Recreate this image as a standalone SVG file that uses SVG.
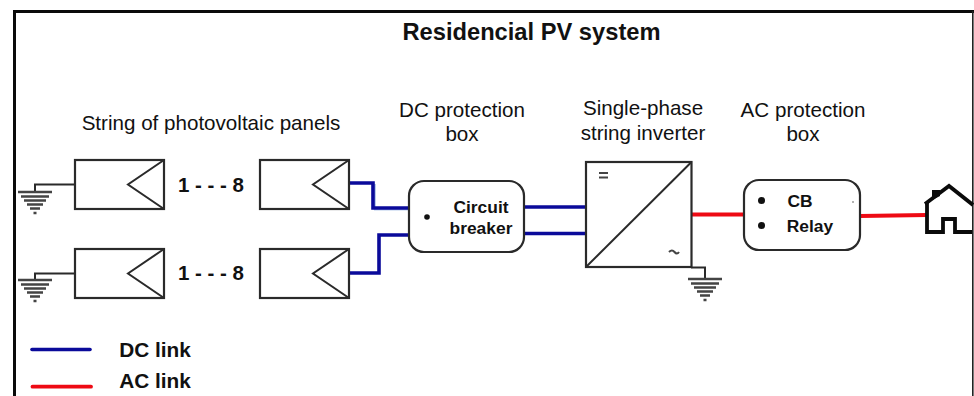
<svg xmlns="http://www.w3.org/2000/svg" width="974" height="396" viewBox="0 0 974 396">
<defs>
<style>
text{font-family:"Liberation Sans",Arial,sans-serif;fill:#111;text-anchor:middle}
.t{font-size:20.6px}
.b{font-weight:bold;font-size:17.4px}
.bl{font-weight:bold;font-size:20.8px}
.n{font-weight:bold;font-size:20.5px}
.box{fill:#fff;stroke:#2a2a2a;stroke-width:2.2}
.w{fill:none;stroke:#2a2a2a;stroke-width:2}
.dc{fill:none;stroke:#0a0a9a;stroke-width:3.6}
.ac{fill:none;stroke:#ee0a14;stroke-width:3.8}
.g{fill:none;stroke:#444;stroke-width:2.4}
.sh{fill:none;stroke:#b9cdeb;stroke-width:2}
.h{fill:none;stroke:#0a0a0a;stroke-width:3.8}
</style>
<g id="ground">
<path class="g" d="M-17 0H17M-14 4.500H14M-11 8.500H11M-8 12.500H8M-5 16.500H5M-1.500 21H1.500"/>
</g>
<g id="panel">
<rect class="box" x="0" y="0" width="89" height="49"/>
<path class="w" d="M89 0L53 24.500L89 49"/>
</g>
</defs>
<rect width="974" height="396" fill="#fff"/>
<path d="M14.500 396V11.500H974" fill="none" stroke="#0a0a0a" stroke-width="3"/>
<rect x="972" y="11" width="1.600" height="385" fill="#222"/>
<text x="531.500" y="40" style="font-size:23.700px;font-weight:bold">Residencial PV system</text>

<g id="connectors">
<path class="sh" d="M375 184V209.500H409"/>
<path class="dc" d="M349 183H373V208H409"/>
<path class="dc" d="M349 273H379V235H409"/>
<path class="dc" d="M523 207H587"/>
<path class="dc" d="M523 233.500H587"/>
<path class="ac" d="M691 214.500H745"/>
<path class="ac" d="M860 216L927 215"/>
<path class="w" d="M75 184.500H35V192"/>
<path class="w" d="M75 273.500H35V280"/>
<path class="w" d="M691 267.500H705V279"/>
</g>

<g id="panel-1"><use href="#panel" x="75" y="160"/></g>
<g id="panel-2"><use href="#panel" x="260" y="160"/></g>
<g id="panel-3"><use href="#panel" x="75" y="249"/></g>
<g id="panel-4"><use href="#panel" x="260" y="249"/></g>
<g id="ground-1"><use href="#ground" x="35" y="192"/></g>
<g id="ground-2"><use href="#ground" x="35" y="280"/></g>
<g id="ground-3"><use href="#ground" x="705" y="279"/></g>

<g id="string-label">
<text class="t" x="211" y="130">String of photovoltaic panels</text>
<text class="n" x="211" y="192">1 - - - 8</text>
<text class="n" x="211" y="280">1 - - - 8</text>
</g>

<g id="dc-box">
<text class="t" x="462" y="117">DC protection</text>
<text class="t" x="462" y="141">box</text>
<rect class="box" x="409" y="181" width="115" height="71" rx="15"/>
<circle cx="427" cy="217" r="2.800" fill="#111"/>
<text class="b" x="481" y="213">Circuit</text>
<text class="b" x="481" y="234">breaker</text>
</g>

<g id="inverter">
<text class="t" x="643" y="115">Single-phase</text>
<text class="t" x="643" y="140">string inverter</text>
<rect class="box" x="586" y="162" width="105.500" height="105"/>
<path class="w" d="M586 267L691.500 162"/>
<path d="M599 173H608M599 177.500H608" stroke="#444" stroke-width="2" fill="none"/>
<path d="M669 252Q672 249 674.500 252T679 252" stroke="#444" stroke-width="2" fill="none"/>
</g>

<g id="ac-box">
<text class="t" x="803" y="117">AC protection</text>
<text class="t" x="803" y="141">box</text>
<rect class="box" x="744" y="180" width="116" height="70" rx="15"/>
<circle cx="761.500" cy="200.500" r="3.500" fill="#111"/>
<circle cx="761.500" cy="225.500" r="3.500" fill="#111"/>
<text class="b" x="800" y="207">CB</text>
<text class="b" x="810" y="232">Relay</text>
<circle cx="853" cy="202" r="1" fill="#999"/>
</g>

<g id="house">
<path class="h" d="M925 204L949 186L973 205"/>
<path class="h" d="M927 203V232H943V219H955V232H972"/>
<path d="M932 200V190H940V196Z" fill="#0a0a0a"/>
</g>

<g id="legend">
<path class="dc" d="M32 349.500H90" stroke-linecap="round"/>
<path class="ac" d="M32.500 386.700H91" stroke-linecap="round"/>
<text class="bl" x="155" y="357">DC link</text>
<text class="bl" x="155" y="388">AC link</text>
</g>
</svg>
